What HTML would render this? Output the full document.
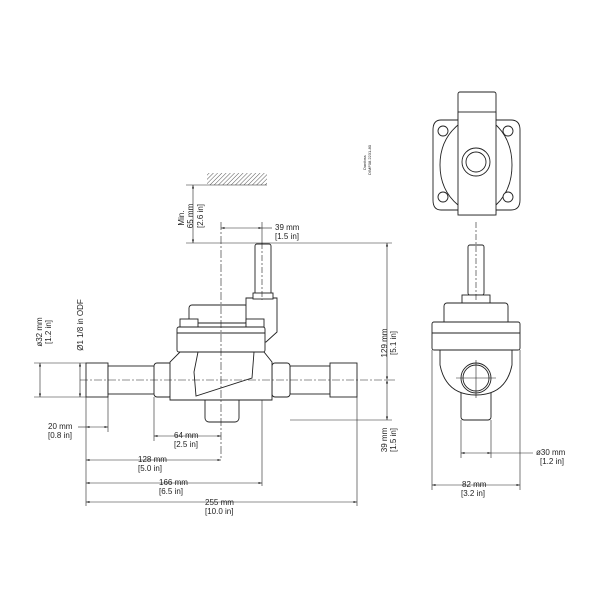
<!DOCTYPE html>
<html><head><style>body{margin:0;background:#fff}svg{display:block}text{font-family:"Liberation Sans",sans-serif;font-size:8px;fill:#222}</style></head><body>
<svg width="600" height="600" viewBox="0 0 600 600" xmlns="http://www.w3.org/2000/svg">
<defs>
<pattern id="h" width="3" height="3" patternUnits="userSpaceOnUse" patternTransform="rotate(45)"><line x1="0" y1="0" x2="0" y2="3" stroke="#555" stroke-width="1"/></pattern>
<marker id="a" viewBox="0 0 10 10" refX="10" refY="5" markerWidth="6" markerHeight="6" orient="auto-start-reverse"><path d="M0,2 L10,5 L0,8z" fill="#222"/></marker>
</defs>
<g stroke="#222" fill="none" stroke-width="0.6">
<rect x="207" y="173" width="60" height="12" fill="url(#h)" stroke="none"/>
<line x1="186" y1="185" x2="267" y2="185"/>
<line x1="186" y1="243" x2="392" y2="243"/>
<line x1="193" y1="185" x2="193" y2="243" marker-start="url(#a)" marker-end="url(#a)"/>
<line x1="262" y1="222" x2="262" y2="486"/>
<line x1="221" y1="228" x2="262" y2="228" marker-start="url(#a)" marker-end="url(#a)"/>
<line x1="262" y1="228" x2="272" y2="228"/>
</g>
<g stroke="#222" fill="#fff" stroke-width="0.9">
<rect x="86" y="363" width="22" height="34"/>
<rect x="108" y="366" width="47" height="28"/>
<rect x="154" y="363" width="18" height="34" rx="3"/>
<rect x="290" y="366" width="40" height="28"/>
<rect x="272" y="363" width="18" height="34" rx="3"/>
<rect x="330" y="363" width="27" height="34"/>
<rect x="205" y="395" width="34" height="27" rx="4"/>
<path d="M180,352 L264,352 L272,362 L272,400 L170,400 L170,362 Z"/>
<path d="M198,352 L254,352 L252,378 L196,396 L194,372 Z"/>
<rect x="189" y="305" width="59" height="18" rx="3"/>
<path d="M246,298 L277,298 L277,332 L266,342 L246,342 Z"/>
<rect x="255" y="244" width="16" height="52" rx="2"/>
<rect x="253" y="293" width="20" height="6"/>
<rect x="180" y="319" width="18" height="9"/>
<rect x="246" y="319" width="18" height="9"/>
<rect x="177" y="327" width="88" height="25" rx="2"/>
<line x1="177" y1="333" x2="265" y2="333"/>
<rect x="458" y="92" width="38" height="123" rx="2"/>
<path d="M441,120 L511,120 Q520,120 520,130 L520,200 Q520,210 511,210 L441,210 Q433,210 433,200 L433,130 Q433,120 441,120Z"/>
<path d="M458,125 Q440,140 440,165 Q440,190 458,205 M496,125 Q512,140 512,165 Q512,190 496,205" fill="none"/>
<rect x="458" y="112" width="38" height="103"/>
<circle cx="443" cy="131" r="5"/><circle cx="508" cy="131" r="5"/>
<circle cx="443" cy="197" r="5"/><circle cx="508" cy="197" r="5"/>
<circle cx="476" cy="162" r="14"/><circle cx="476" cy="162" r="10"/>
<rect x="468" y="245" width="16" height="50" rx="2"/>
<rect x="462" y="295" width="28" height="8"/>
<rect x="444" y="303" width="64" height="22" rx="3"/>
<rect x="432" y="322" width="88" height="28" rx="2"/>
<line x1="432" y1="333" x2="520" y2="333"/>
<rect x="461" y="385" width="30" height="35" rx="3"/>
<path d="M440,350 L512,350 L512,365 Q506,395 476,395 Q446,395 440,365Z"/>
<circle cx="476" cy="378" r="15"/><circle cx="476" cy="378" r="13"/>
</g>
<g stroke="#222" fill="none" stroke-width="0.6">
<line x1="221" y1="222" x2="221" y2="460" stroke-dasharray="8 2 2 2"/>
<line x1="262" y1="243" x2="262" y2="300" stroke-dasharray="6 2 2 2"/>
<line x1="80" y1="380" x2="395" y2="380" stroke-dasharray="8 2 2 2"/>
<line x1="476" y1="222" x2="476" y2="300" stroke-dasharray="6 2 2 2"/>
<line x1="456" y1="378" x2="496" y2="378"/><line x1="476" y1="360" x2="476" y2="398"/>
<line x1="34" y1="363" x2="86" y2="363"/><line x1="34" y1="397" x2="86" y2="397"/>
<line x1="40" y1="363" x2="40" y2="397" marker-start="url(#a)" marker-end="url(#a)"/>
<line x1="80" y1="363" x2="80" y2="397" marker-start="url(#a)" marker-end="url(#a)"/>
<line x1="86" y1="397" x2="86" y2="506"/><line x1="108" y1="397" x2="108" y2="432"/>
<line x1="154" y1="397" x2="154" y2="441"/><line x1="357" y1="397" x2="357" y2="506"/>
<line x1="78" y1="427" x2="86" y2="427"/><line x1="86" y1="427" x2="108" y2="427" marker-start="url(#a)" marker-end="url(#a)"/>
<line x1="154" y1="436" x2="221" y2="436" marker-start="url(#a)" marker-end="url(#a)"/>
<line x1="86" y1="460" x2="221" y2="460" marker-start="url(#a)" marker-end="url(#a)"/>
<line x1="86" y1="483" x2="262" y2="483" marker-start="url(#a)" marker-end="url(#a)"/>
<line x1="86" y1="502" x2="357" y2="502" marker-start="url(#a)" marker-end="url(#a)"/>
<line x1="290" y1="420" x2="392" y2="420"/>
<line x1="387" y1="243" x2="387" y2="380" marker-start="url(#a)" marker-end="url(#a)"/>
<line x1="387" y1="380" x2="387" y2="420" marker-start="url(#a)" marker-end="url(#a)"/>
<line x1="461" y1="420" x2="461" y2="458"/><line x1="491" y1="420" x2="491" y2="458"/>
<line x1="461" y1="453" x2="491" y2="453" marker-start="url(#a)" marker-end="url(#a)"/>
<line x1="491" y1="453" x2="533" y2="453"/>
<line x1="432" y1="350" x2="432" y2="490"/><line x1="520" y1="350" x2="520" y2="490"/>
<line x1="432" y1="485" x2="520" y2="485" marker-start="url(#a)" marker-end="url(#a)"/>
</g>
<g>
<text x="275" y="230">39 mm</text><text x="275" y="239">[1.5 in]</text>
<text transform="translate(184,218) rotate(-90)" text-anchor="middle">Min.</text>
<text transform="translate(193,216) rotate(-90)" text-anchor="middle">65 mm</text>
<text transform="translate(203,216) rotate(-90)" text-anchor="middle">[2.6 in]</text>
<text transform="translate(42,332) rotate(-90)" text-anchor="middle">ø32 mm</text>
<text transform="translate(51,332) rotate(-90)" text-anchor="middle">[1.2 in]</text>
<text transform="translate(83,325) rotate(-90)" text-anchor="middle">Ø1 1/8 in ODF</text>
<text x="48" y="429">20 mm</text><text x="48" y="438">[0.8 in]</text>
<text x="174" y="438">64 mm</text><text x="174" y="447">[2.5 in]</text>
<text x="138" y="462">128 mm</text><text x="138" y="471">[5.0 in]</text>
<text x="159" y="485">166 mm</text><text x="159" y="494">[6.5 in]</text>
<text x="205" y="505">255 mm</text><text x="205" y="514">[10.0 in]</text>
<text transform="translate(387,343) rotate(-90)" text-anchor="middle">129 mm</text>
<text transform="translate(396,343) rotate(-90)" text-anchor="middle">[5.1 in]</text>
<text transform="translate(387,440) rotate(-90)" text-anchor="middle">39 mm</text>
<text transform="translate(396,440) rotate(-90)" text-anchor="middle">[1.5 in]</text>
<text x="536" y="455">ø30 mm</text><text x="540" y="464">[1.2 in]</text>
<text x="462" y="487">82 mm</text><text x="461" y="496">[3.2 in]</text>
<text transform="translate(366,170) rotate(-90)" style="font-size:4px">Danfoss</text>
<text transform="translate(371,175) rotate(-90)" style="font-size:4px">DIMF08.2231-80</text>
</g>
</svg>
</body></html>
